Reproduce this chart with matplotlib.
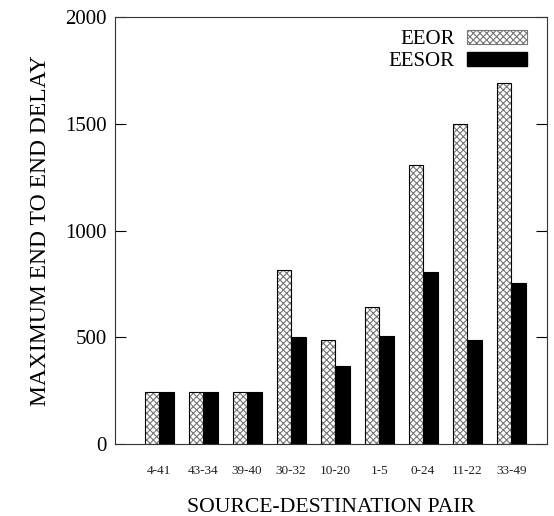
import numpy as np
import matplotlib
matplotlib.use("Agg")
import matplotlib.pyplot as plt
from matplotlib.patches import Patch

plt.rcParams['font.family'] = 'Liberation Serif'
plt.rcParams['hatch.linewidth'] = 0.8

# === DATA ===
pairs = ['4-41', '43-34', '39-40', '30-32', '10-20', '1-5', '0-24', '11-22', '33-49']
eeor = [245, 245, 245, 815, 487, 640, 1306, 1501, 1690]
eesor = [245, 245, 245, 500, 366, 505, 806, 487, 752]

x = np.arange(1, len(pairs) + 1)
w = 0.33

fig = plt.figure(figsize=(5.54, 5.16), dpi=100)
ax = fig.add_axes([0.2076, 0.1395, 0.7794, 0.8275])

# hatched bars: grey hatch, black outline on top
ax.bar(x - w / 2, eeor, w, color='white', edgecolor='#777777', hatch='xxxxx', linewidth=0)
ax.bar(x - w / 2, eeor, w, fill=False, edgecolor='black', linewidth=0.8)
ax.bar(x + w / 2, eesor, w, color='black', edgecolor='black', linewidth=0.8)

ax.set_xlim(0, 9.81)
ax.set_ylim(0, 2000)
ax.set_yticks([0, 500, 1000, 1500, 2000])
ax.set_xticks(x)
ax.set_xticklabels(pairs, fontsize=9.5, color='#222222')
ax.tick_params(axis='x', length=0, pad=15)
ax.tick_params(axis='y', direction='in', length=8, labelsize=15, right=True, pad=6)

for s in ax.spines.values():
    s.set_linewidth(0.8)
    s.set_color('#333333')

ax.set_ylabel('MAXIMUM END TO END DELAY', fontsize=17, labelpad=10)
ax.set_xlabel('SOURCE-DESTINATION PAIR', fontsize=15.6, labelpad=15)

# legend
h1 = Patch(facecolor='white', edgecolor='#777777', hatch='xxxxx', linewidth=0.8)
h2 = Patch(facecolor='black', edgecolor='black')
ax.legend([h1, h2], ['EEOR', 'EESOR'], loc='upper right', frameon=False,
          bbox_to_anchor=(0.973, 0.99), borderaxespad=0,
          markerfirst=False, fontsize=15, handlelength=2.85, handleheight=0.65,
          labelspacing=0.15, handletextpad=0.62)

plt.savefig('out.png', dpi=100)
